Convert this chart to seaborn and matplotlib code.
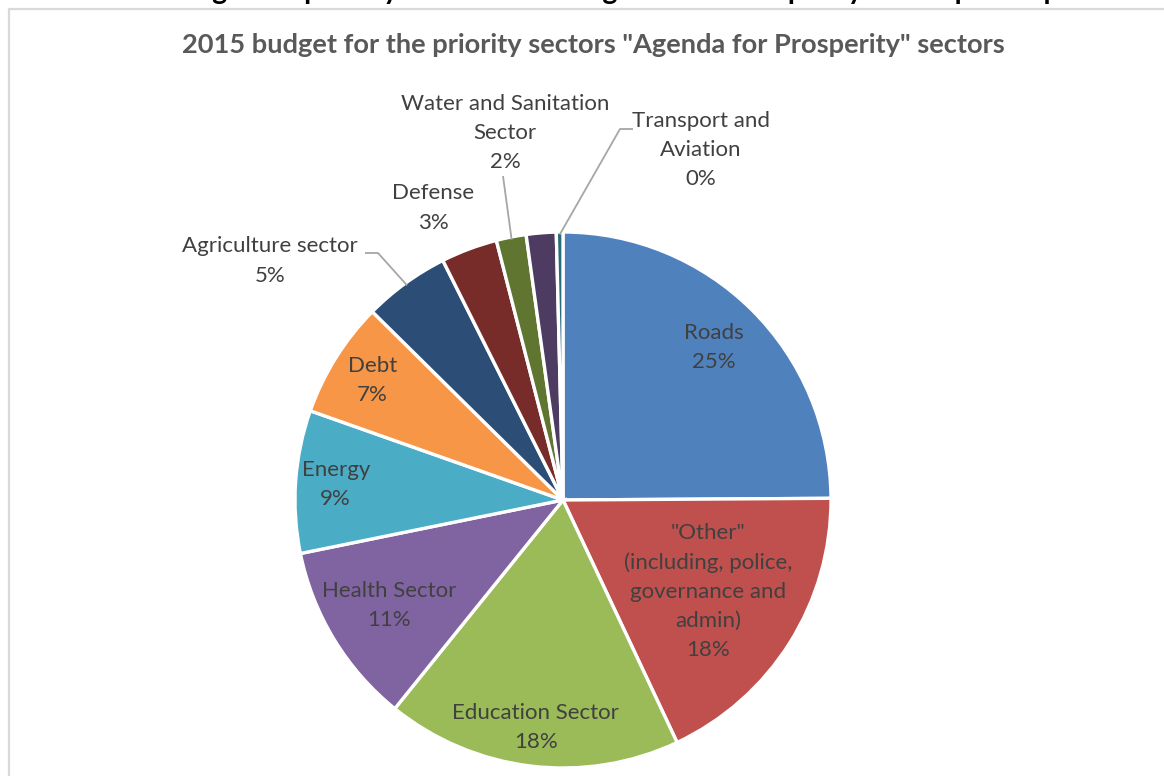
import numpy as np
import matplotlib
matplotlib.use("Agg")
import matplotlib.pyplot as plt
from matplotlib.lines import Line2D
import seaborn as sns

# Budget shares (%) of the priority sectors, clockwise from 12 o'clock
sectors = [
    "Roads",
    '"Other"\n(including, police,\ngovernance and\nadmin)',
    "Education Sector",
    "Health Sector",
    "Energy",
    "Debt",
    "Agriculture sector",
    "Defense",
    "Water and Sanitation\nSector",
    "",
    "Transport and\nAviation",
]
shares = [24.9, 18.1, 17.8, 11.0, 8.6, 7.0, 5.2, 3.4, 1.8, 1.8, 0.4]
slice_colors = ["#4F81BD", "#C0504D", "#9BBB59", "#8064A2", "#4BACC6", "#F79646",
                "#2C4D75", "#772C2A", "#5F7530", "#4D3B62", "#276A7C"]

title = '2015 budget for the priority sectors "Agenda for Prosperity" sectors'
caption = ("Chart 2: The budget for priority sectors in the Agenda for Prosperity "
           "development plan")

sns.set_theme(style="white")
plt.rcParams["font.family"] = ["Lato", "DejaVu Sans"]

W, H = 1164, 776
fig = plt.figure(figsize=(W / 100, H / 100), dpi=100)
fig.patch.set_facecolor("white")

# caption line running off the top edge
fig.text(0.0, 1 + 0.5 / H, caption, ha="left", va="baseline", fontsize=20.5,
         fontweight="bold", color="black")

# chart frame
frame_col = "#d9d9d9"
fig.add_artist(Line2D([8.5 / W, 8.5 / W], [0, 1 - 8.5 / H], transform=fig.transFigure,
                      color=frame_col, lw=1.6))
fig.add_artist(Line2D([8.5 / W, 1.0], [1 - 8.5 / H, 1 - 8.5 / H], transform=fig.transFigure,
                      color=frame_col, lw=1.6))

fig.text(593 / W, 1 - 45 / H, title, ha="center", va="center", fontsize=19.6,
         fontweight="bold", color="#595959")

# pie axes: centre (563, 500) px, radius 268 px
R = 268
cx, cy = 563, 500
ax = fig.add_axes([(cx - R) / W, (H - cy - R) / H, 2 * R / W, 2 * R / H])
palette = sns.color_palette(slice_colors)
ax.pie(shares, colors=palette, startangle=90, counterclock=False, radius=1.0,
       wedgeprops=dict(edgecolor="white", linewidth=2.4))
ax.set_xlim(-1, 1)
ax.set_ylim(-1, 1)
ax.set_aspect("equal")
ax.set_axis_off()

vals = np.array(shares)
total = vals.sum()
start = np.concatenate([[0], np.cumsum(vals)[:-1]])
mid_deg = 90 - 360 * (start + vals / 2) / total

label_col = "#404040"
fs = 16
ls = 1.57

# labels inside the larger slices, placed along each slice's bisector
inside_r = {0: 0.80, 1: 0.64, 2: 0.855, 3: 0.76, 4: 0.85, 5: 0.84}
for i, r in inside_r.items():
    a = np.deg2rad(mid_deg[i])
    ax.text(r * np.cos(a), r * np.sin(a), f"{sectors[i]}\n{vals[i]:.0f}%",
            ha="center", va="center", fontsize=fs, color=label_col,
            multialignment="center", linespacing=ls)

# labels set outside the small slices, with leader lines
def px(x, y):
    return ((x - cx) / R, (cy - y) / R)

outside = {
    6: (px(270, 261), [px(365, 253), px(378, 253)]),
    7: (px(433, 208), None),
    8: (px(505, 133), [px(503, 176)]),
    10: (px(701, 150), [px(633, 129), px(620, 129)]),
}
for i, (pos, leader) in outside.items():
    ax.text(pos[0], pos[1], f"{sectors[i]}\n{vals[i]:.0f}%", ha="center", va="center",
            fontsize=fs, color=label_col, multialignment="center", linespacing=ls)
    if leader:
        a = np.deg2rad(mid_deg[i])
        pts = leader + [(0.99 * np.cos(a), 0.99 * np.sin(a))]
        xs, ys = zip(*pts)
        ax.plot(xs, ys, color="#a6a6a6", lw=1.3, solid_capstyle="butt", clip_on=False)

fig.savefig("out.png", dpi=100, facecolor="white")
